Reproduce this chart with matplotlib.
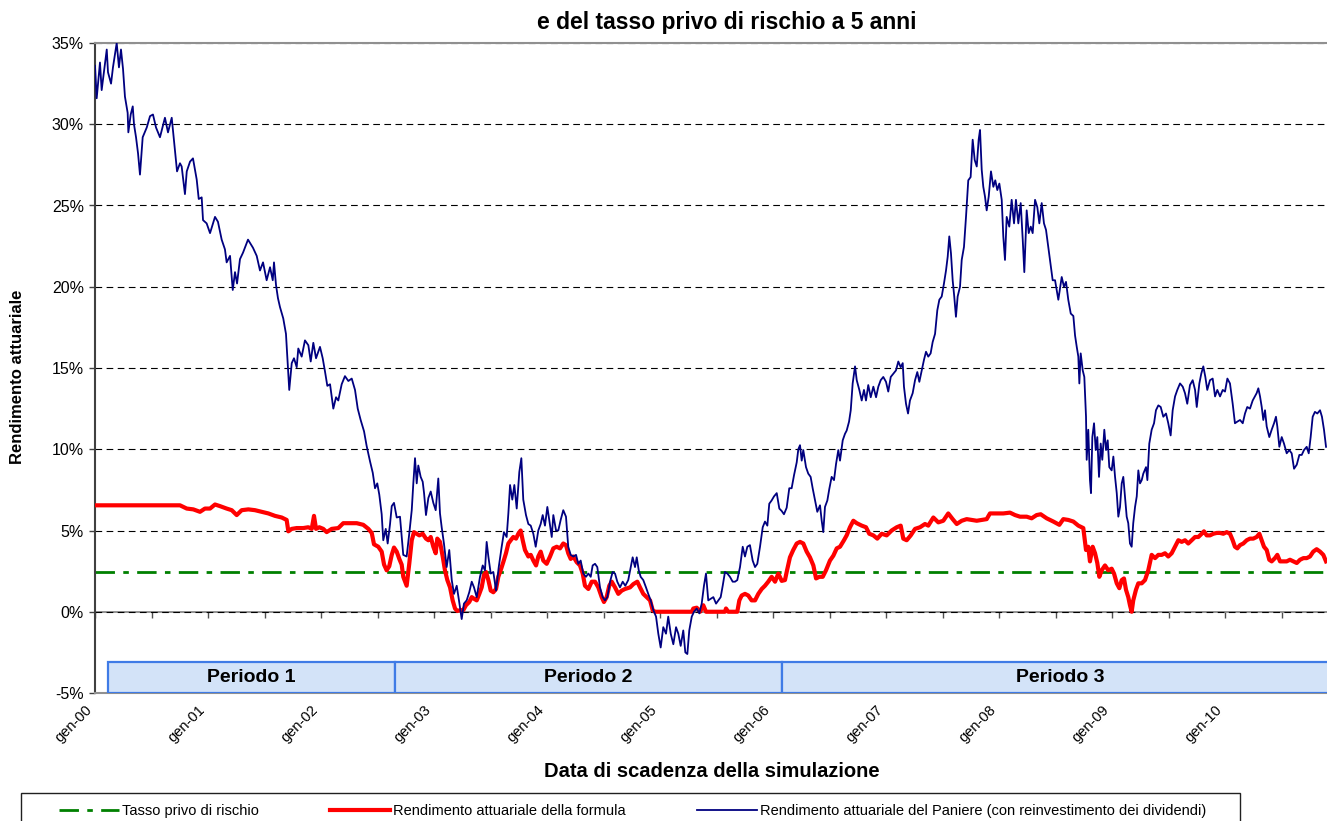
import numpy as np
import matplotlib
matplotlib.use("Agg")
import matplotlib.pyplot as plt
from matplotlib.patches import Rectangle

plt.rcParams['font.family'] = ['Liberation Sans', 'DejaVu Sans']

# anni dal gennaio 2000
anni_tick = list(range(0, 11))
etichette_x = ['gen-%02d' % a for a in anni_tick]
tasso_privo = 2.45

paniere_t = [
    0.000, 0.015, 0.044, 0.059, 0.088, 0.104, 0.115, 0.142, 0.159, 0.192, 0.212, 0.230,
    0.248, 0.265, 0.289, 0.295, 0.316, 0.334, 0.345, 0.363, 0.381, 0.398, 0.422, 0.458,
    0.487, 0.513, 0.540, 0.575, 0.619, 0.646, 0.679, 0.699, 0.726, 0.752, 0.767, 0.796,
    0.812, 0.841, 0.867, 0.900, 0.918, 0.944, 0.956, 0.988, 1.018, 1.062, 1.088, 1.121,
    1.150, 1.165, 1.195, 1.219, 1.239, 1.257, 1.283, 1.310, 1.354, 1.398, 1.431, 1.460,
    1.487, 1.519, 1.549, 1.573, 1.584, 1.602, 1.619, 1.637, 1.666, 1.690, 1.705, 1.719,
    1.741, 1.761, 1.785, 1.799, 1.829, 1.858, 1.888, 1.909, 1.932, 1.956, 1.991, 2.015,
    2.035, 2.056, 2.080, 2.109, 2.133, 2.153, 2.183, 2.212, 2.242, 2.272, 2.301, 2.325,
    2.351, 2.381, 2.404, 2.434, 2.458, 2.478, 2.498, 2.516, 2.537, 2.551, 2.573, 2.590,
    2.611, 2.626, 2.646, 2.670, 2.699, 2.728, 2.758, 2.781, 2.803, 2.817, 2.832, 2.847,
    2.861, 2.882, 2.900, 2.912, 2.929, 2.950, 2.971, 2.994, 3.015, 3.038, 3.053, 3.068,
    3.088, 3.112, 3.135, 3.157, 3.177, 3.201, 3.221, 3.245, 3.265, 3.289, 3.312, 3.334,
    3.354, 3.378, 3.407, 3.431, 3.451, 3.466, 3.481, 3.502, 3.525, 3.549, 3.573, 3.599,
    3.619, 3.643, 3.658, 3.673, 3.693, 3.711, 3.732, 3.755, 3.773, 3.790, 3.814, 3.835,
    3.856, 3.879, 3.900, 3.923, 3.944, 3.962, 3.982, 4.003, 4.020, 4.042, 4.056, 4.080,
    4.100, 4.121, 4.144, 4.168, 4.188, 4.210, 4.233, 4.257, 4.277, 4.298, 4.321, 4.345,
    4.366, 4.387, 4.404, 4.425, 4.445, 4.469, 4.493, 4.513, 4.534, 4.558, 4.581, 4.602,
    4.622, 4.646, 4.670, 4.693, 4.719, 4.741, 4.758, 4.779, 4.794, 4.812, 4.829, 4.852,
    4.876, 4.896, 4.918, 4.941, 4.965, 4.985, 5.006, 5.029, 5.053, 5.073, 5.095, 5.118,
    5.142, 5.162, 5.183, 5.206, 5.224, 5.242, 5.259, 5.281, 5.301, 5.325, 5.348, 5.369,
    5.389, 5.407, 5.427, 5.449, 5.472, 5.496, 5.516, 5.537, 5.555, 5.575, 5.596, 5.619,
    5.643, 5.664, 5.684, 5.708, 5.732, 5.752, 5.773, 5.796, 5.820, 5.841, 5.861, 5.885,
    5.909, 5.929, 5.950, 5.967, 5.988, 6.009, 6.033, 6.056, 6.077, 6.097, 6.121, 6.144,
    6.165, 6.186, 6.210, 6.224, 6.239, 6.254, 6.268, 6.292, 6.312, 6.333, 6.351, 6.372,
    6.392, 6.416, 6.431, 6.445, 6.460, 6.481, 6.498, 6.519, 6.540, 6.558, 6.578, 6.593,
    6.617, 6.637, 6.652, 6.673, 6.688, 6.705, 6.726, 6.741, 6.764, 6.785, 6.805, 6.823,
    6.843, 6.865, 6.888, 6.912, 6.932, 6.953, 6.976, 7.000, 7.020, 7.042, 7.065, 7.088,
    7.109, 7.130, 7.148, 7.159, 7.177, 7.195, 7.212, 7.236, 7.257, 7.277, 7.295, 7.316,
    7.336, 7.354, 7.374, 7.395, 7.413, 7.434, 7.454, 7.472, 7.493, 7.513, 7.531, 7.546,
    7.560, 7.575, 7.590, 7.604, 7.619, 7.634, 7.655, 7.670, 7.690, 7.708, 7.728, 7.749,
    7.767, 7.785, 7.803, 7.820, 7.832, 7.847, 7.861, 7.876, 7.891, 7.909, 7.929, 7.950,
    7.967, 7.985, 8.003, 8.024, 8.038, 8.053, 8.068, 8.091, 8.112, 8.133, 8.150, 8.171,
    8.192, 8.210, 8.224, 8.245, 8.263, 8.281, 8.298, 8.319, 8.339, 8.357, 8.378, 8.398,
    8.416, 8.436, 8.458, 8.475, 8.496, 8.525, 8.555, 8.575, 8.593, 8.613, 8.635, 8.658,
    8.673, 8.688, 8.702, 8.711, 8.723, 8.741, 8.755, 8.770, 8.776, 8.790, 8.805, 8.814,
    8.826, 8.841, 8.856, 8.870, 8.885, 8.900, 8.914, 8.932, 8.947, 8.962, 8.976, 8.997,
    9.012, 9.027, 9.042, 9.056, 9.071, 9.086, 9.100, 9.115, 9.130, 9.144, 9.159, 9.174,
    9.188, 9.204, 9.219, 9.233, 9.248, 9.263, 9.277, 9.301, 9.313, 9.330, 9.351, 9.372,
    9.389, 9.410, 9.431, 9.454, 9.478, 9.498, 9.519, 9.537, 9.558, 9.578, 9.602, 9.626,
    9.646, 9.666, 9.690, 9.714, 9.735, 9.750, 9.773, 9.790, 9.808, 9.826, 9.843, 9.867,
    9.891, 9.912, 9.932, 9.956, 9.980, 10.000, 10.021, 10.044, 10.068, 10.088, 10.109, 10.133,
    10.157, 10.177, 10.197, 10.221, 10.245, 10.265, 10.280, 10.295, 10.310, 10.325, 10.339, 10.354,
    10.369, 10.392, 10.413, 10.434, 10.451, 10.463, 10.481, 10.502, 10.522, 10.546, 10.569, 10.590,
    10.611, 10.635, 10.658, 10.679, 10.699, 10.723, 10.741, 10.758, 10.776, 10.796, 10.817, 10.841,
    10.858, 10.876, 10.894,
]
paniere_v = [
    33.6, 31.6, 33.8, 32.1, 33.7, 34.6, 33.2, 32.5, 33.5, 35.0, 33.5, 34.6,
    33.4, 31.7, 30.7, 29.5, 30.6, 31.1, 30.0, 29.2, 28.2, 26.9, 29.2, 29.8,
    30.5, 30.6, 29.8, 29.2, 30.4, 29.5, 30.4, 29.0, 27.1, 27.6, 27.4, 25.7,
    27.1, 27.7, 27.9, 26.6, 25.4, 25.5, 24.1, 23.9, 23.3, 24.3, 24.0, 22.9,
    22.3, 21.5, 21.9, 19.8, 20.9, 20.2, 21.7, 22.1, 22.9, 22.4, 21.9, 21.0,
    21.5, 20.4, 21.2, 20.4, 21.5, 20.1, 19.3, 18.75, 18.05, 17.1, 15.3, 13.65,
    15.3, 15.6, 15.05, 16.2, 15.7, 16.7, 16.4, 15.4, 16.55, 15.6, 16.3, 15.6,
    14.8, 13.9, 14.0, 12.5, 13.2, 13.0, 14.0, 14.5, 14.2, 14.35, 13.65, 12.5,
    11.8, 11.1, 10.2, 9.25, 8.55, 7.6, 7.9, 7.2, 6.0, 4.4, 5.1, 4.2,
    5.4, 6.5, 6.7, 5.8, 5.85, 3.5, 3.4, 4.8, 6.25, 7.9, 9.45, 7.9,
    9.0, 8.3, 8.0, 7.3, 5.95, 7.0, 7.4, 6.7, 6.25, 8.2, 6.05, 5.2,
    4.2, 2.75, 3.8, 1.95, 1.1, 1.6, 0.7, -0.45, 0.5, 0.7, 1.2, 1.85,
    1.5, 0.9, 2.15, 2.85, 2.55, 4.3, 3.4, 2.35, 2.45, 1.3, 2.75, 4.0,
    4.9, 4.6, 6.05, 7.8, 6.9, 7.8, 6.35, 8.6, 9.45, 6.9, 5.95, 5.4,
    5.3, 4.8, 4.0, 5.0, 5.4, 5.95, 5.3, 6.45, 5.65, 4.6, 5.95, 5.0,
    5.0, 5.65, 6.25, 5.85, 4.0, 3.5, 3.4, 3.5, 2.95, 3.15, 2.35, 2.15,
    2.35, 2.15, 2.85, 2.95, 2.75, 1.5, 0.9, 0.7, 0.9, 1.85, 2.45, 2.35,
    1.85, 1.5, 1.85, 1.6, 1.95, 2.75, 3.35, 2.75, 3.35, 2.55, 2.15, 1.95,
    1.5, 1.1, 0.7, 0.1, -0.3, -1.35, -2.2, -0.95, -1.35, -0.3, -1.35, -2.0,
    -0.95, -1.35, -2.1, -1.15, -2.5, -2.6, -1.15, -0.3, 0.0, 0.2, -0.1, 0.5,
    1.6, 2.35, 0.7, 0.8, 0.9, 0.5, 0.7, 0.9, 1.6, 2.45, 2.35, 2.15,
    1.85, 1.85, 1.95, 2.75, 4.0, 3.4, 4.0, 4.1, 3.15, 2.75, 2.95, 4.0,
    5.2, 5.55, 5.3, 6.65, 6.85, 7.1, 7.3, 6.35, 6.2, 6.0, 6.4, 7.6,
    7.6, 8.4, 9.2, 10.0, 10.25, 9.3, 9.95, 8.9, 8.5, 8.3, 7.6, 6.85,
    6.15, 6.55, 5.6, 4.9, 6.45, 6.85, 7.55, 8.3, 8.1, 9.1, 9.95, 9.3,
    10.55, 10.95, 11.15, 11.7, 12.4, 14.05, 15.1, 14.25, 13.65, 13.0, 13.65, 13.0,
    13.95, 13.2, 13.85, 13.2, 13.85, 14.25, 14.45, 14.15, 13.55, 14.45, 14.65, 14.85,
    15.4, 15.05, 15.3, 13.85, 12.8, 12.2, 13.0, 13.45, 14.25, 14.75, 14.15, 14.85,
    15.5, 16.0, 15.7, 15.9, 16.6, 17.1, 18.55, 19.2, 19.4, 20.2, 21.0, 21.85,
    23.1, 22.05, 20.4, 19.4, 18.15, 19.4, 20.0, 21.65, 22.45, 24.3, 26.55, 26.75,
    29.05, 27.8, 27.4, 29.05, 29.65, 27.2, 26.15, 25.55, 24.7, 25.55, 27.1, 26.15,
    26.55, 25.95, 26.35, 25.35, 23.1, 21.65, 24.3, 23.7, 25.35, 23.9, 25.35, 23.9,
    25.15, 22.9, 20.9, 24.7, 23.3, 23.7, 23.3, 25.35, 24.9, 23.9, 25.15, 23.9,
    23.5, 22.45, 21.25, 20.4, 20.4, 19.2, 20.6, 20.0, 20.3, 19.2, 18.35, 18.2,
    17.0, 16.3, 15.7, 14.05, 15.9, 14.85, 14.45, 12.0, 9.35, 11.2, 8.1, 7.3,
    10.75, 11.6, 9.95, 10.75, 8.3, 10.35, 9.35, 11.2, 9.95, 10.55, 8.9, 8.7,
    9.55, 8.3, 7.3, 5.85, 6.45, 7.9, 8.3, 7.1, 5.85, 5.45, 4.2, 4.0,
    5.45, 6.45, 7.1, 8.7, 7.9, 8.1, 8.5, 8.9, 8.1, 10.35, 11.2, 11.6,
    12.4, 12.7, 12.6, 12.0, 12.2, 11.6, 10.85, 12.4, 13.25, 13.65, 14.05, 13.85,
    13.45, 12.8, 13.95, 14.25, 13.65, 12.6, 14.05, 14.65, 15.1, 14.45, 13.65, 14.25,
    14.35, 13.25, 13.65, 13.25, 13.65, 13.55, 14.35, 14.05, 12.8, 11.6, 11.7, 11.8,
    11.6, 12.2, 12.6, 12.5, 13.0, 13.25, 13.45, 13.75, 13.25, 12.6, 11.8, 12.4,
    11.4, 10.75, 11.2, 11.6, 12.0, 11.4, 10.15, 10.75, 10.35, 9.75, 9.95, 9.75,
    8.8, 9.05, 9.65, 9.65, 9.95, 10.15, 9.75, 10.75, 12.0, 12.3, 12.2, 12.4,
    12.0, 11.2, 10.15,
]

formula_t = [
    0.000, 0.752, 0.812, 0.870, 0.929, 0.973, 1.018, 1.062, 1.106, 1.165, 1.210, 1.254,
    1.298, 1.357, 1.416, 1.475, 1.534, 1.593, 1.652, 1.696, 1.711, 1.741, 1.785, 1.843,
    1.888, 1.918, 1.938, 1.956, 1.985, 2.020, 2.050, 2.095, 2.153, 2.197, 2.257, 2.316,
    2.374, 2.419, 2.449, 2.469, 2.507, 2.537, 2.558, 2.581, 2.604, 2.626, 2.646, 2.670,
    2.693, 2.714, 2.728, 2.758, 2.781, 2.803, 2.823, 2.847, 2.870, 2.900, 2.929, 2.950,
    2.971, 2.994, 3.015, 3.029, 3.053, 3.077, 3.097, 3.118, 3.142, 3.165, 3.186, 3.206,
    3.236, 3.259, 3.283, 3.312, 3.334, 3.354, 3.378, 3.401, 3.422, 3.442, 3.460, 3.481,
    3.502, 3.525, 3.549, 3.569, 3.590, 3.613, 3.637, 3.658, 3.679, 3.702, 3.726, 3.746,
    3.767, 3.785, 3.805, 3.835, 3.856, 3.879, 3.903, 3.923, 3.944, 3.967, 3.997, 4.027,
    4.056, 4.086, 4.115, 4.144, 4.168, 4.188, 4.210, 4.233, 4.263, 4.292, 4.316, 4.336,
    4.366, 4.396, 4.425, 4.454, 4.484, 4.504, 4.528, 4.551, 4.573, 4.602, 4.631, 4.661,
    4.690, 4.735, 4.764, 4.799, 4.823, 4.852, 4.882, 4.912, 4.935, 4.956, 5.281, 5.295,
    5.325, 5.354, 5.383, 5.407, 5.575, 5.584, 5.604, 5.684, 5.702, 5.723, 5.752, 5.781,
    5.811, 5.841, 5.870, 5.900, 5.929, 5.958, 5.988, 6.018, 6.047, 6.077, 6.106, 6.121,
    6.150, 6.179, 6.210, 6.239, 6.268, 6.298, 6.327, 6.357, 6.381, 6.410, 6.440, 6.469,
    6.504, 6.534, 6.564, 6.593, 6.628, 6.652, 6.681, 6.711, 6.741, 6.785, 6.823, 6.852,
    6.888, 6.923, 6.962, 7.006, 7.050, 7.095, 7.130, 7.153, 7.183, 7.219, 7.257, 7.301,
    7.345, 7.374, 7.419, 7.463, 7.507, 7.551, 7.590, 7.626, 7.670, 7.714, 7.758, 7.803,
    7.847, 7.891, 7.920, 7.980, 8.038, 8.097, 8.142, 8.186, 8.245, 8.289, 8.333, 8.369,
    8.422, 8.481, 8.534, 8.569, 8.613, 8.658, 8.702, 8.746, 8.770, 8.790, 8.805, 8.829,
    8.850, 8.870, 8.888, 8.909, 8.938, 8.967, 8.997, 9.018, 9.042, 9.065, 9.086, 9.106,
    9.124, 9.144, 9.159, 9.174, 9.188, 9.212, 9.233, 9.263, 9.292, 9.321, 9.351, 9.381,
    9.410, 9.440, 9.469, 9.498, 9.528, 9.558, 9.587, 9.617, 9.646, 9.675, 9.705, 9.735,
    9.764, 9.794, 9.814, 9.838, 9.867, 9.897, 9.927, 9.956, 9.985, 10.015, 10.044, 10.068,
    10.088, 10.109, 10.133, 10.162, 10.192, 10.221, 10.250, 10.280, 10.304, 10.325, 10.345, 10.369,
    10.392, 10.413, 10.442, 10.463, 10.487, 10.516, 10.546, 10.575, 10.604, 10.635, 10.664, 10.694,
    10.723, 10.752, 10.781, 10.811, 10.841, 10.870, 10.894,
]
formula_v = [
    6.55, 6.55, 6.35, 6.3, 6.15, 6.35, 6.35, 6.6, 6.5, 6.35, 6.25, 5.95,
    6.25, 6.3, 6.25, 6.15, 6.05, 5.9, 5.8, 5.65, 4.95, 5.1, 5.15, 5.15,
    5.2, 5.1, 5.9, 5.1, 5.2, 5.1, 4.9, 5.1, 5.15, 5.45, 5.45, 5.45,
    5.35, 5.1, 4.85, 4.15, 4.0, 3.7, 2.9, 2.55, 2.8, 3.5, 3.95, 3.7,
    3.25, 2.9, 2.15, 1.6, 2.95, 4.4, 4.9, 4.8, 4.7, 4.8, 4.5, 4.4,
    4.6, 4.0, 3.6, 4.5, 4.3, 3.4, 2.55, 1.95, 1.5, 0.7, 0.2, 0.05,
    0.1, 0.1, 0.4, 0.6, 0.9, 0.8, 0.7, 1.1, 1.5, 2.25, 2.45, 1.95,
    1.3, 1.2, 1.4, 2.15, 2.55, 3.05, 3.6, 4.2, 4.4, 4.6, 4.5, 4.8,
    5.0, 4.4, 3.8, 3.4, 3.5, 3.15, 2.85, 3.4, 3.7, 3.15, 2.95, 3.4,
    3.9, 4.0, 3.9, 4.2, 4.1, 3.6, 3.25, 3.4, 3.05, 2.85, 2.35, 1.6,
    1.4, 1.85, 1.85, 1.5, 0.9, 0.6, 0.9, 1.6, 1.85, 1.5, 1.1, 1.3,
    1.4, 1.5, 1.7, 1.85, 1.5, 1.1, 0.9, 0.7, 0.1, 0.0, 0.0, 0.2,
    0.25, 0.0, 0.4, 0.0, 0.0, 0.2, 0.0, 0.0, 0.7, 1.0, 1.1, 1.0,
    0.7, 0.7, 1.1, 1.4, 1.6, 1.85, 2.15, 1.85, 2.35, 1.9, 1.95, 2.45,
    3.35, 3.8, 4.2, 4.3, 4.2, 3.7, 3.35, 2.85, 2.05, 2.15, 2.15, 2.55,
    3.15, 3.45, 3.9, 4.0, 4.4, 4.7, 5.2, 5.6, 5.45, 5.3, 5.2, 4.8,
    4.7, 4.5, 4.8, 4.7, 5.0, 5.2, 5.3, 4.5, 4.4, 4.7, 5.1, 5.2,
    5.4, 5.3, 5.8, 5.5, 5.6, 6.05, 5.7, 5.4, 5.6, 5.7, 5.65, 5.6,
    5.65, 5.7, 6.05, 6.05, 6.05, 6.1, 5.95, 5.85, 5.85, 5.75, 5.95, 6.0,
    5.75, 5.55, 5.35, 5.7, 5.65, 5.55, 5.3, 5.15, 3.8, 4.0, 3.1, 4.0,
    3.6, 3.0, 2.15, 2.55, 2.85, 2.55, 2.65, 2.35, 1.75, 1.45, 1.95, 2.05,
    1.35, 0.9, 0.4, 0.0, 0.7, 1.35, 1.75, 1.75, 1.95, 2.55, 3.5, 3.3,
    3.5, 3.5, 3.6, 3.4, 3.6, 4.0, 4.4, 4.3, 4.4, 4.2, 4.4, 4.6,
    4.6, 4.8, 4.95, 4.7, 4.7, 4.8, 4.85, 4.85, 4.8, 4.9, 4.8, 4.4,
    4.0, 3.9, 4.1, 4.2, 4.4, 4.5, 4.5, 4.6, 4.8, 4.4, 4.0, 3.8,
    3.2, 3.1, 3.3, 3.5, 3.1, 3.1, 3.1, 3.2, 3.1, 3.0, 3.2, 3.3,
    3.3, 3.4, 3.7, 3.85, 3.7, 3.5, 3.1,
]

periodi = ['Periodo 1', 'Periodo 2', 'Periodo 3']
periodo_inizio = [0.115, 2.655, 6.08]
periodo_fine = [2.655, 6.08, 11.0]

W, H = 1327, 821
fig = plt.figure(figsize=(W / 100, H / 100), dpi=100)
ax = fig.add_axes([95 / W, 1 - 693 / H, 1 - 95 / W, (693 - 43) / H])

ymin, ymax = -5, 35
ax.set_xlim(0, (W - 95) / 113)
ax.set_ylim(ymin, ymax)

ax.axhline(tasso_privo, color='#008000', lw=2, ls=(0, (7, 3, 2, 3)),
           label='Tasso privo di rischio', zorder=2)
ax.plot(formula_t, formula_v, color='#ff0000', lw=3,
        label='Rendimento attuariale della formula', zorder=3)
ax.plot(paniere_t, paniere_v, color='#000080', lw=1.3,
        label='Rendimento attuariale del Paniere (con reinvestimento dei dividendi)', zorder=4)

# griglia orizzontale tratteggiata
ax.set_yticks(range(ymin, ymax + 1, 5))
ax.set_yticklabels(['%d%%' % v for v in range(ymin, ymax + 1, 5)], fontsize=11.5)
ax.yaxis.grid(True, color='black', ls=(0, (6, 4)), lw=0.8)
ax.set_axisbelow(True)
ax.tick_params(axis='y', length=4, width=1, color='#404040', pad=4)

ax.set_xticks(anni_tick)
ax.set_xticklabels(etichette_x, rotation=45, ha='right', fontsize=10.5)
ax.tick_params(axis='x', length=0, pad=7)

ax.spines['left'].set_color('#404040')
ax.spines['left'].set_linewidth(1.5)
for s in ['top', 'bottom']:
    ax.spines[s].set_color('#909090')
    ax.spines[s].set_linewidth(1.5)
ax.spines['right'].set_visible(False)

# asse delle categorie che incrocia lo 0%
sec = ax.secondary_xaxis((0 - ymin) / (ymax - ymin))
sec.set_alignment('bottom')
sec.set_xticks(np.arange(0, 11, 0.5))
sec.tick_params(length=4, width=1, color='#505050', labelbottom=False)
sec.spines['bottom'].set_color('#808080')
sec.spines['bottom'].set_linewidth(1.2)

# riquadri dei periodi
for nome, a, b in zip(periodi, periodo_inizio, periodo_fine):
    ax.add_patch(Rectangle((a, ymin), b - a, 1.9, facecolor='#d3e3f8',
                           edgecolor='#3f7be6', lw=1.6, zorder=5, clip_on=True))
    xc = (a + b) / 2
    ax.text(xc, ymin + 0.95, nome, ha='center', va='center', fontsize=14,
            fontweight='bold', zorder=6)

fig.text(727 / W, 1 - 23 / H, 'e del tasso privo di rischio a 5 anni', ha='center',
         va='center', fontsize=16.5, fontweight='bold')
fig.text(712 / W, 1 - 771 / H, 'Data di scadenza della simulazione', ha='center',
         va='center', fontsize=14.5, fontweight='bold')
fig.text(18 / W, 1 - 377 / H, 'Rendimento attuariale', ha='center', va='center',
         rotation=90, fontsize=12, fontweight='bold')

# legenda
fig.patches.append(Rectangle((21 / W, 1 - 832 / H), (1240 - 21) / W, 39 / H,
                             transform=fig.transFigure, fill=False,
                             edgecolor='#202020', lw=1))
handles, labels = ax.get_legend_handles_labels()
fig.legend(handles, labels, loc='center left', bbox_to_anchor=(59 / W, 1 - 811 / H),
           ncol=3, frameon=False, fontsize=10.5, handlelength=4.1, handletextpad=0.2,
           columnspacing=4.9, borderpad=0, borderaxespad=0)

fig.savefig('out.png', dpi=100)
